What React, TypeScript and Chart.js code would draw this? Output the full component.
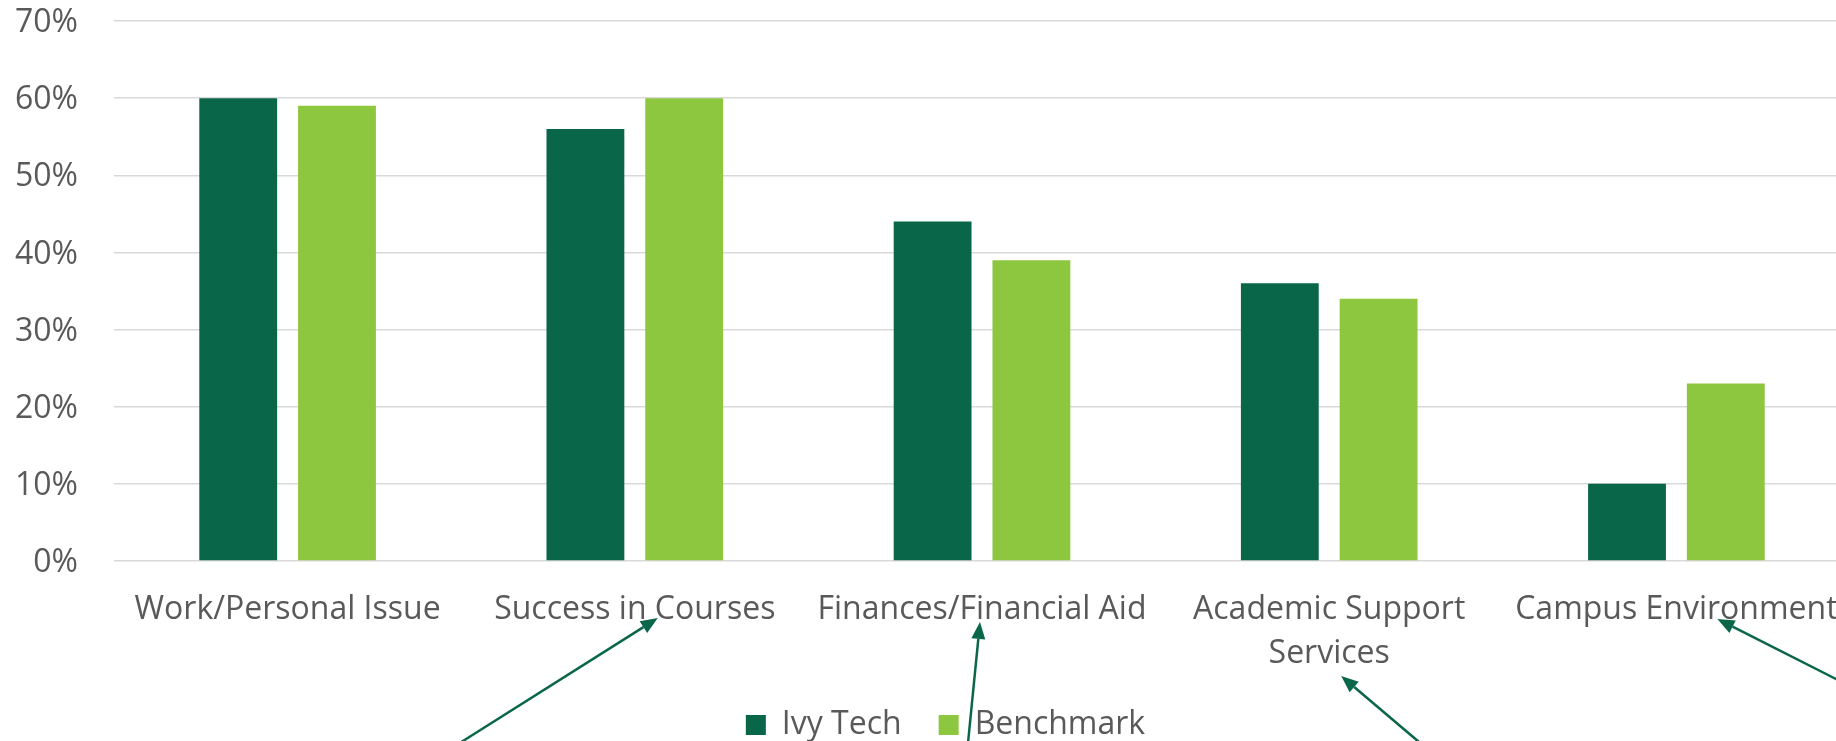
import React, { useEffect, useRef } from "react";
import { Chart, registerables } from "chart.js";

Chart.register(...registerables);

const categories: (string | string[])[] = [
  "Work/Personal Issue",
  "Success in Courses",
  "Finances/Financial Aid",
  ["Academic Support", "Services"],
  "Campus Environment",
];
const ivyTechValues = [60, 56, 44, 36, 10];
const benchmarkValues = [59, 60, 39, 34, 23];
const seriesNames = ["Ivy Tech", "Benchmark"];
const yMin = 0;
const yMax = 70;
const yStep = 10;

// annotation arrows: category index, head/tail offsets from category centre and axis line
const arrowNotes = [
  { category: 1, head: [23, 57], tail: [-175, 182] },
  { category: 2, head: [-2, 61], tail: [-14, 182] },
  { category: 3, head: [12, 115], tail: [91, 182] },
  { category: 4, head: [41, 58], tail: [205, 141] },
];

const DARK = "#0A6649";
const LIGHT = "#8DC63F";
const TEXT = "#595959";
const FONT = "'Open Sans', sans-serif";

const arrowPlugin = {
  id: "arrowNotes",
  afterDraw(chart: any) {
    const ctx = chart.ctx;
    const xs = chart.scales.x;
    const base = chart.chartArea.bottom;
    ctx.save();
    ctx.strokeStyle = DARK;
    ctx.fillStyle = DARK;
    ctx.lineWidth = 2.5;
    arrowNotes.forEach((a) => {
      const cx = xs.getPixelForValue(a.category);
      const hx = cx + a.head[0];
      const hy = base + a.head[1];
      const tx = cx + a.tail[0];
      const ty = base + a.tail[1];
      const ang = Math.atan2(hy - ty, hx - tx);
      const L = 17;
      const W = 7;
      const c = Math.cos(ang);
      const s = Math.sin(ang);
      ctx.beginPath();
      ctx.moveTo(tx, ty);
      ctx.lineTo(hx - L * c, hy - L * s);
      ctx.stroke();
      ctx.beginPath();
      ctx.moveTo(hx, hy);
      ctx.lineTo(hx - L * c + W * s, hy - L * s - W * c);
      ctx.lineTo(hx - L * c - W * s, hy - L * s + W * c);
      ctx.closePath();
      ctx.fill();
    });
    ctx.restore();
  },
};

export default function App() {
  const ref = useRef<HTMLCanvasElement | null>(null);

  useEffect(() => {
    if (!ref.current) return;
    const chart = new Chart(ref.current, {
      type: "bar",
      data: {
        labels: categories as any,
        datasets: [
          {
            label: seriesNames[0],
            data: ivyTechValues,
            backgroundColor: DARK,
            barPercentage: 0.788,
            categoryPercentage: 0.569,
          },
          {
            label: seriesNames[1],
            data: benchmarkValues,
            backgroundColor: LIGHT,
            barPercentage: 0.788,
            categoryPercentage: 0.569,
          },
        ],
      },
      options: {
        animation: false,
        responsive: false,
        maintainAspectRatio: false,
        layout: { padding: { top: 21, left: 0, right: 0, bottom: 0 } },
        plugins: {
          legend: {
            position: "bottom",
            labels: {
              boxWidth: 20,
              boxHeight: 20,
              padding: 37,
              color: TEXT,
              font: { family: FONT, size: 32 },
            },
          },
          tooltip: { enabled: false },
        },
        scales: {
          x: {
            grid: { display: false, drawTicks: false },
            border: { display: false },
            ticks: {
              color: TEXT,
              font: { family: FONT, size: 32, lineHeight: 1.4 },
              padding: 26,
              maxRotation: 0,
              autoSkip: false,
            },
            afterFit: (s: any) => {
              s.height = 111;
            },
          },
          y: {
            min: yMin,
            max: yMax,
            ticks: {
              stepSize: yStep,
              callback: (v: any) => v + "%",
              padding: 0,
              labelOffset: 2,
              color: TEXT,
              font: { family: FONT, size: 32, lineHeight: 1.2 },
            },
            grid: {
              color: "#D9D9D9",
              lineWidth: 1.5,
              drawTicks: true,
              tickLength: 36,
              tickColor: "rgba(0,0,0,0)",
            },
            border: { display: false },
            afterFit: (s: any) => {
              s.width = 114;
            },
          },
          yPad: {
            position: "right",
            display: true,
            grid: { display: false, drawTicks: false },
            ticks: { display: false, padding: 0 },
            border: { display: false },
            afterFit: (s: any) => {
              s.width = 41;
            },
          },
        },
      },
      plugins: [arrowPlugin],
    } as any);
    return () => chart.destroy();
  }, []);

  return (
    <div
      style={{
        position: "fixed",
        left: 0,
        top: 0,
        width: 1836,
        height: 741,
        overflow: "hidden",
        background: "#fff",
      }}
    >
      <canvas ref={ref} width={1891} height={751} style={{ display: "block" }} />
    </div>
  );
}
